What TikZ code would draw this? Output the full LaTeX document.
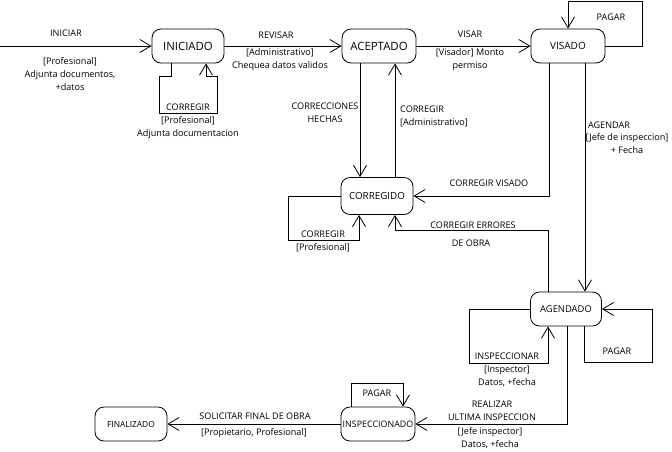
\documentclass[tikz,border=0pt]{standalone}
\usepackage{fontspec}
\setmainfont{Open Sans}
\usetikzlibrary{arrows.meta}
\begin{document}
\begin{tikzpicture}[x=1pt,y=-1pt,
  state/.style={draw, rounded corners=9pt, line width=0.8pt, minimum width=72pt,
    minimum height=34pt, inner sep=0pt, font=\fontsize{9.4}{11}\selectfont},
  bigstate/.style={state, font=\fontsize{11.4}{13}\selectfont},
  lbl/.style={inner sep=0pt, align=center, font=\fontsize{9.1}{13}\selectfont},
  arr/.style={line width=0.8pt, -{Straight Barb[length=11pt,width=13pt,line width=0.8pt]}}]
\useasboundingbox (0,0) rectangle (672,451);

% states
\node[bigstate] (ini) at (188,46) {INICIADO};
\node[bigstate, minimum width=74pt] (acep) at (379,46) {ACEPTADO};
\node[state, minimum width=74pt, font=\fontsize{10}{12}\selectfont] (vis) at (568,46) {VISADO};
\node[state, minimum height=37pt, font=\fontsize{9.8}{12}\selectfont] (corr) at (377,196) {CORREGIDO};
\node[state, minimum width=71pt] (agen) at (566,309) {AGENDADO};
\node[state, minimum width=74pt, font=\fontsize{8.9}{10}\selectfont] (insp) at (378,424) {INSPECCIONADO};
\node[state, font=\fontsize{8.4}{10}\selectfont] (fin) at (131,424) {FINALIZADO};
\coordinate (start) at (0,46);

% transitions along the top row
\draw[arr] (start) -- (ini.west);
\draw[arr] (ini.east) -- (acep.west);
\draw[arr] (acep.east) -- (vis.west);
\draw[arr] (vis.east) -- (642,46) -- (642,1) -| (vis.north);
\draw[arr] ([xshift=-17pt]ini.south) -- (171,76) -- (159,76) -- (159,113)
  -- (217,113) -- (217,76) -- (206,76) -- ([xshift=18pt]ini.south);

% corrections
\draw[arr] ([xshift=-19pt]acep.south) -- ([xshift=-19pt]acep.south |- corr.north);
\draw[arr] ([xshift=18pt]corr.north) -- ([xshift=18pt]corr.north |- acep.south);
\draw[arr] ([xshift=-19pt]vis.south) |- (corr.east);
\draw[arr] (corr.west) -- (288,196) -- (288,240) -- (359,240) -- ([xshift=-18pt]corr.south);
\draw[arr] ([xshift=-18pt]agen.north) -- (548,230) -- (395,230) -- ([xshift=18pt]corr.south);

% scheduling and inspection
\draw[arr] ([xshift=17pt]vis.south) -- ([xshift=17pt]vis.south |- agen.north);
\draw[arr] (agen.west) -- (469,309) -- (469,363) -- (548,363) -- ([xshift=-18pt]agen.south);
\draw[arr] ([xshift=18pt]agen.south) -- (584,362) -- (652,362) -- (652,309) -- (agen.east);
\draw[arr] ([xshift=1pt]agen.south) |- (insp.east);
\draw[arr] ([xshift=-27pt]insp.north) -- (351,383) -- (403,383) -- ([xshift=25pt]insp.north);
\draw[arr] (insp.west) -- (fin.east);

% labels
\node[lbl] (tIniciar) at (66,33) {INICIAR};
\node[lbl] (tIniciarB) at (70,74) {[Profesional]\\Adjunta documentos,\\+datos};
\node[lbl] (tCorrIni) at (188,107) {CORREGIR};
\node[lbl] (tCorrIniB) at (188,127.5) {[Profesional]\\Adjunta documentacion};
\node[lbl] (tRevisar) at (276,35) {REVISAR};
\node[lbl] (tRevisarB) at (280,59.5) {[Administrativo]\\Chequea datos validos};
\node[lbl] (tVisar) at (470,34) {VISAR};
\node[lbl] (tVisarB) at (470,60) {[Visador] Monto\\permiso};
\node[lbl] (tPagarVis) at (611,17) {PAGAR};
\node[lbl] (tCorrHechas) at (325,113) {CORRECCIONES\\HECHAS};
\node[lbl, align=left, anchor=west] (tCorrAdm) at (400,116.5) {CORREGIR\\{}[Administrativo]};
\node[lbl] (tCorrVis) at (489,183) {CORREGIR VISADO};
\node[lbl] (tCorrErr) at (473,225) {CORREGIR ERRORES};
\node[lbl] (tDeObra) at (471,243) {DE OBRA};
\node[lbl] (tCorrProf) at (323,241.5) {CORREGIR\\{}[Profesional]};
\node[lbl] (tAgendar) at (609,125) {AGENDAR};
\node[lbl] (tAgendarB) at (627,143.5) {[Jefe de inspeccion]\\+ Fecha};
\node[lbl] (tInspeccionar) at (507,370) {INSPECCIONAR\\{}[Inspector]\\Datos, +fecha};
\node[lbl] (tPagarAgen) at (617,351) {PAGAR};
\node[lbl] (tPagarInsp) at (377,393) {PAGAR};
\node[lbl] (tRealizar) at (492,410.5) {REALIZAR\\ULTIMA INSPECCION};
\node[lbl] (tJefe) at (490,438.5) {[Jefe inspector]\\Datos, +fecha};
\node[lbl] (tSolicitar) at (255,416) {SOLICITAR FINAL DE OBRA};
\node[lbl] (tPropietario) at (254,433) {[Propietario, Profesional]};
\end{tikzpicture}
\end{document}
